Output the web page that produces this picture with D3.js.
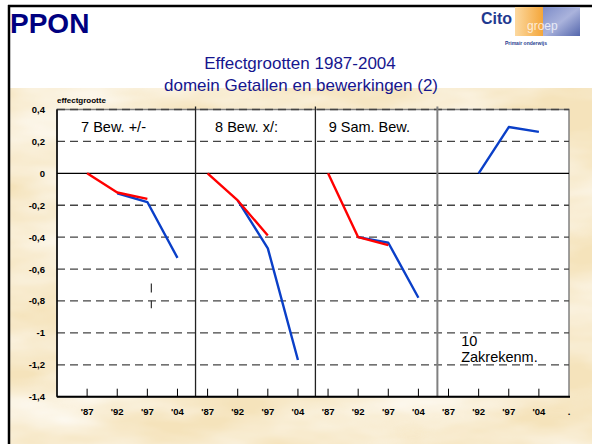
<!DOCTYPE html>
<html><head><meta charset="utf-8">
<script src="https://cdn.jsdelivr.net/npm/d3@7"></script>
<style>html,body{margin:0;padding:0;background:#fff;} svg{display:block;font-family:Arial,"Liberation Sans",sans-serif;}</style>
</head><body><svg id="c" width="592" height="444"></svg>
<script>
// ---- data ----
const tickLabels = ["'87","'92","'97","'04","'87","'92","'97","'04","'87","'92","'97","'04","'87","'92","'97","'04","."];
const yTicks = [0.4,0.2,0,-0.2,-0.4,-0.6,-0.8,-1,-1.2,-1.4];
const panelLabels = ["7 Bew. +/-","8 Bew. x/:","9 Sam. Bew.","10 Zakrekenm."];
const redSeries  = [0,-0.12,-0.16,null,   0,-0.17,-0.39,null,   0,-0.40,-0.45,null,   null,null,null,null];
const blueSeries = [null,-0.125,-0.18,-0.53, null,-0.17,-0.47,-1.17, null,-0.40,-0.435,-0.78, null,0,0.29,0.26];
const dividers = [3.6, 7.58, 11.63];
const errorMark = [2, -0.69, -0.845];

// ---- layout ----
const svg = d3.select("#c");
const L = 57, R = 569, T = 109.5, B = 396.7;
const x = d3.scaleLinear().domain([-1, 16]).range([L, R]);
const y = d3.scaleLinear().domain([-1.4, 0.4]).range([B, T]);

const defs = svg.append("defs");
const f = defs.append("filter").attr("id","tex").attr("x",0).attr("y",0).attr("width","100%").attr("height","100%");
f.append("feTurbulence").attr("type","fractalNoise").attr("baseFrequency","0.006 0.018").attr("numOctaves",4).attr("seed",7);
f.append("feColorMatrix").attr("type","matrix").attr("values","0 0 0 0 1  0 0 0 0 1  0 0 0 0 1  1.6 0 0 0 -0.55");
const og = defs.append("linearGradient").attr("id","og").attr("x1",0).attr("x2",1);
og.append("stop").attr("offset",0).attr("stop-color","#fcd9a0");
og.append("stop").attr("offset",1).attr("stop-color","#f4a63a");
const bg = defs.append("linearGradient").attr("id","bg").attr("x1",0).attr("x2",1).attr("y1",0).attr("y2",1);
bg.append("stop").attr("offset",0).attr("stop-color","#7d8cc8");
bg.append("stop").attr("offset",0.5).attr("stop-color","#aab3dc");
bg.append("stop").attr("offset",1).attr("stop-color","#5466ac");

// background
svg.append("rect").attr("width",592).attr("height",444).attr("fill","#fff");
svg.append("rect").attr("x",9).attr("y",88).attr("width",583).attr("height",356).attr("fill","#f5e3bb");
svg.append("rect").attr("x",9).attr("y",88).attr("width",583).attr("height",356).attr("filter","url(#tex)");
// frame
svg.append("line").attr("x1",8).attr("x2",592).attr("y1",6).attr("y2",6).attr("stroke","#000").attr("stroke-width",2.5);
svg.append("line").attr("x1",9).attr("x2",9).attr("y1",5).attr("y2",444).attr("stroke","#000").attr("stroke-width",2.5);

// PPON
svg.append("text").attr("x",10).attr("y",33).attr("font-size",28).attr("font-weight","bold").attr("fill","#000080").text("PPON");

// logo
svg.append("rect").attr("x",515).attr("y",7).attr("width",28).attr("height",29).attr("fill","url(#og)");
svg.append("rect").attr("x",543).attr("y",7).attr("width",37).attr("height",29).attr("fill","url(#bg)");
svg.append("text").attr("x",481).attr("y",24).attr("font-size",16).attr("font-weight","bold").attr("fill","#1f3a90").text("Cito");
svg.append("text").attr("x",527).attr("y",30).attr("font-size",12).attr("fill","#fff").attr("fill-opacity",0.75).text("groep");
svg.append("text").attr("x",505).attr("y",45).attr("font-size",5).attr("font-weight","bold").attr("fill","#2a4090").text("Primair onderwijs");

// title
const title = svg.append("text").attr("text-anchor","middle").attr("font-size",17).attr("fill","#16168e");
title.append("tspan").attr("x",300).attr("y",69).text("Effectgrootten 1987-2004");
title.append("tspan").attr("x",301).attr("y",91).text("domein Getallen en bewerkingen (2)");

// plot area
svg.append("rect").attr("x",L).attr("y",T).attr("width",R-L).attr("height",B-T).attr("fill","#fff").attr("stroke","#808080").attr("stroke-width",1.5);

// gridlines
svg.append("g").selectAll("line").data(yTicks.filter(v => v !== 0 && v !== -1.4)).join("line")
  .attr("x1",L).attr("x2",R).attr("y1",d=>y(d)).attr("y2",d=>y(d))
  .attr("stroke","#444").attr("stroke-width",1.3).attr("stroke-dasharray","8,5");
svg.append("line").attr("x1",L).attr("x2",R).attr("y1",y(0)).attr("y2",y(0)).attr("stroke","#000").attr("stroke-width",1.2);

// dividers
svg.append("g").selectAll("line").data(dividers).join("line")
  .attr("x1",d=>x(d)).attr("x2",d=>x(d)).attr("y1",T-3).attr("y2",B)
  .attr("stroke",(d,i)=> i===2 ? "#808080" : "#222").attr("stroke-width",(d,i)=> i===2 ? 2 : 1.3);

// y axis labels
svg.append("g").selectAll("text").data(yTicks).join("text")
  .attr("x",45).attr("y",d=>y(d)+3.5).attr("text-anchor","end").attr("font-size",9.5).attr("font-weight","bold").attr("fill","#000")
  .text(d => d3.format(".1~f")(d).replace("−","-").replace(".",","));
svg.append("text").attr("x",57).attr("y",103).attr("font-size",8).attr("font-weight","bold").text("effectgrootte");

// axes lines
svg.append("line").attr("x1",L).attr("x2",L).attr("y1",T).attr("y2",B).attr("stroke","#000").attr("stroke-width",1.5);
svg.append("line").attr("x1",L).attr("x2",R+1).attr("y1",B).attr("y2",B).attr("stroke","#000").attr("stroke-width",2);

// x ticks + labels
const xi = d3.range(tickLabels.length);
svg.append("g").selectAll("line").data(xi.slice(0,16)).join("line")
  .attr("x1",d=>x(d)).attr("x2",d=>x(d)).attr("y1",B-8).attr("y2",B).attr("stroke","#000").attr("stroke-width",1);
svg.append("g").selectAll("text").data(xi).join("text")
  .attr("x",d=>x(d)).attr("y",415).attr("text-anchor","middle").attr("font-size",9.5).attr("font-weight","bold")
  .text(d=>tickLabels[d]);

// error mark
svg.append("line").attr("x1",x(errorMark[0])+4).attr("x2",x(errorMark[0])+4)
  .attr("y1",y(errorMark[1])).attr("y2",y(errorMark[2])).attr("stroke","#333").attr("stroke-width",1.2).attr("stroke-dasharray","9,8");

// series
const line = d3.line().defined(d => d[1] !== null).x(d => x(d[0])).y(d => y(d[1]));
svg.append("path").datum(blueSeries.map((v,i)=>[i,v])).attr("d",line).attr("fill","none")
  .attr("stroke","#0a3fc8").attr("stroke-width",2.4).attr("stroke-linejoin","round");
svg.append("path").datum(redSeries.map((v,i)=>[i,v])).attr("d",line).attr("fill","none")
  .attr("stroke","#ff0000").attr("stroke-width",2.4).attr("stroke-linejoin","round");

// panel labels
const labelPos = [[-0.2,0.262],[4.25,0.262],[8.02,0.262],[12.42,-1.08]];
panelLabels.forEach((t,i) => {
  const tx = svg.append("text").attr("font-size",14.5).attr("fill","#000");
  if (i === 3) {
    const parts = t.split(" ");
    tx.append("tspan").attr("x",x(labelPos[i][0])).attr("y",y(labelPos[i][1])).text(parts[0]);
    tx.append("tspan").attr("x",x(labelPos[i][0])).attr("y",y(labelPos[i][1])+16).text(parts[1]);
  } else {
    tx.attr("x",x(labelPos[i][0])).attr("y",y(labelPos[i][1])).text(t);
  }
});
</script></body></html>
